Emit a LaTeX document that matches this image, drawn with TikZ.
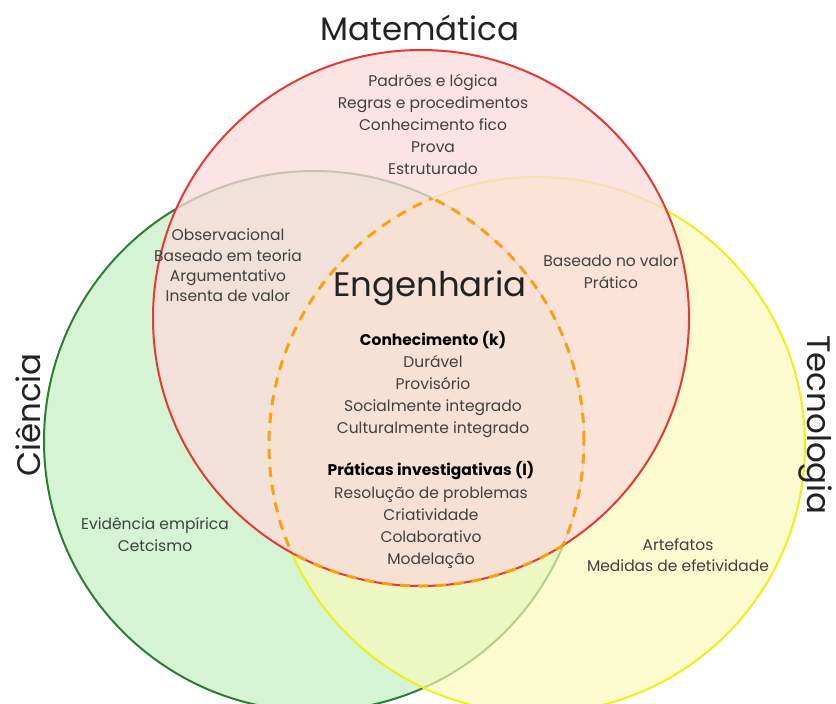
\documentclass[tikz,border=0pt]{standalone}
\usepackage{fontspec}
\setmainfont{Poppins}
\usetikzlibrary{positioning}
\definecolor{MatRed}{HTML}{E53935}
\definecolor{MatFill}{HTML}{FCDBDB}
\definecolor{CieGreen}{HTML}{2E7D32}
\definecolor{CieFill}{HTML}{A9E9A9}
\definecolor{TecYellow}{HTML}{EEF01A}
\definecolor{TecFill}{HTML}{F9F9B8}
\definecolor{EngOrange}{HTML}{F7A11A}
\definecolor{TxtInk}{HTML}{222222}
\definecolor{TxtGray}{HTML}{404040}

\begin{document}
\begin{tikzpicture}[x=1pt, y=-1pt,
  ring/.style={draw, line width=2pt, circle, inner sep=0pt, minimum size=#1},
  title/.style={font=\fontsize{32.5}{38}\selectfont, color=TxtInk},
  items/.style={font=\fontsize{15.5}{22}\selectfont, color=TxtGray, align=center},
  head/.style={font=\fontsize{15.5}{22}\selectfont\bfseries, color=black, align=center},
  boundary/.style={draw=EngOrange, line width=3pt, dash pattern=on 10pt off 8pt}
]
  \clip (0,0) rectangle (836,704);

  % Circles (green first, red on top)
  \coordinate (ccie) at (314,441);
  \coordinate (ctec) at (537,445);
  \coordinate (cmat) at (421,318);
  \node[ring=540pt, draw=CieGreen, fill=CieFill, fill opacity=0.5]   (cie) at (ccie) {};
  \node[ring=536pt, draw=TecYellow, fill=TecFill, fill opacity=0.67] (tec) at (ctec) {};
  \node[ring=536pt, draw=MatRed, fill=MatFill, fill opacity=0.75]    (mat) at (cmat) {};

  % Engenharia = the part common to all three
  \begin{scope}
    \clip (ccie) circle[radius=270pt];
    \clip (ctec) circle[radius=268pt];
    \draw[boundary] (cmat) circle[radius=268pt];
  \end{scope}
  \begin{scope}
    \clip (cmat) circle[radius=268pt];
    \clip (ccie) circle[radius=270pt];
    \draw[boundary] (ctec) circle[radius=268pt];
  \end{scope}
  \begin{scope}
    \clip (cmat) circle[radius=268pt];
    \clip (ctec) circle[radius=268pt];
    \draw[boundary] (ccie) circle[radius=270pt];
  \end{scope}

  % Titles
  \node[title] (tmat) at (420,28) {Matemática};
  \node[title, rotate=90] (tcie) at (28,415) {Ciência};
  \node[title, rotate=-90] (ttec) at (815,425) {Tecnologia};
  \node[font=\fontsize{34}{40}\selectfont, color=TxtInk] (teng) at (430,288) {Engenharia};

  % Descriptions
  \node[items] (dmat) at (433,124)
    {Padrões e lógica\\Regras e procedimentos\\Conhecimento fico\\Prova\\Estruturado};
  \node[items, font=\fontsize{15.5}{20.3}\selectfont] (dmc) at (228,265.5)
    {Observacional\\Baseado em teoria\\Argumentativo\\Insenta de valor};
  \node[items] (dmt) at (611,272) {Baseado no valor\\Prático};
  \node[items] (dcie) at (155,535) {Evidência empírica\\Cetcismo};
  \node[items, font=\fontsize{15.5}{21}\selectfont] (dtec) at (678,555.5)
    {Artefatos\\Medidas de efetividade};

  % Engenharia
  \node[head] (hk) at (433,340) {Conhecimento (k)};
  \node[items, below=0pt of hk] (dk)
    {Durável\\Provisório\\Socialmente integrado\\Culturalmente integrado};
  \node[head] (hl) at (431,471) {Práticas investigativas (l)};
  \node[items, below=0pt of hl] (dl)
    {Resolução de problemas\\Criatividade\\Colaborativo\\Modelação};
\end{tikzpicture}
\end{document}
